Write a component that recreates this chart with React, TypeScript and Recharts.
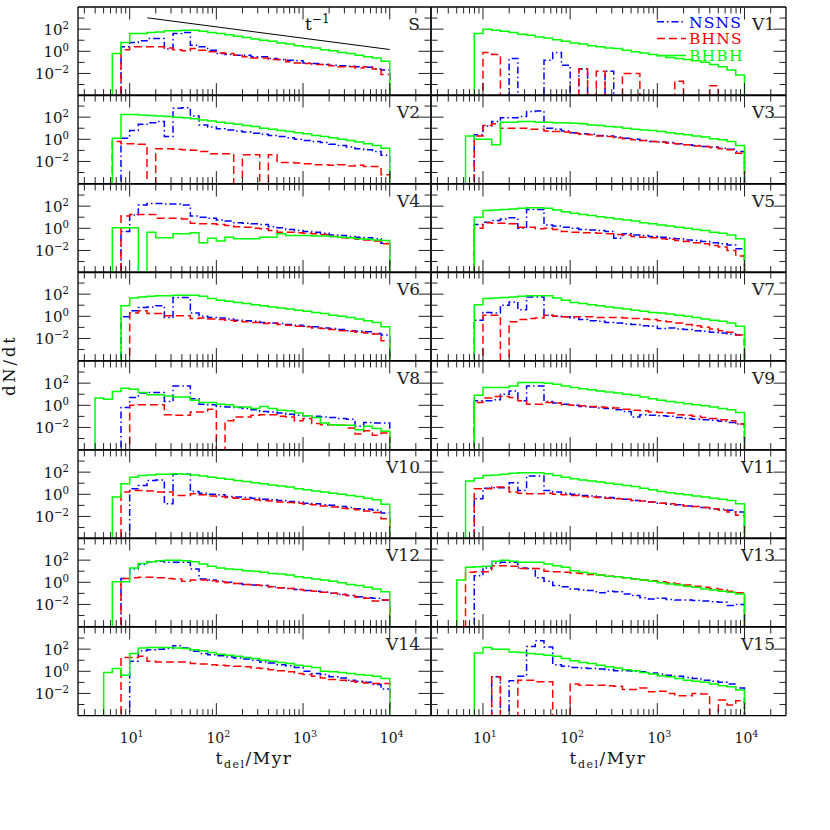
import { LineChart, Line, XAxis, YAxis } from "recharts";

const FONT = "'DejaVu Serif', 'Liberation Serif', serif";
const _ = null;

// log10 of the lower edge of each 0.1 dex delay-time bin (last entry closes the final bin)
const LOG_EDGES = [
  0.6, 0.7, 0.8, 0.9, 1.0, 1.1, 1.2, 1.3, 1.4, 1.5, 1.6, 1.7, 1.8, 1.9, 2.0, 2.1, 2.2, 2.3,
  2.4, 2.5, 2.6, 2.7, 2.8, 2.9, 3.0, 3.1, 3.2, 3.3, 3.4, 3.5, 3.6, 3.7, 3.8, 3.9, 4.0,
];
const X_TICKS = [
  3, 4, 5, 6, 7, 8, 9, 10, 20, 30, 40, 50, 60, 70, 80, 90, 100, 200, 300, 400, 500, 600, 700,
  800, 900, 1000, 2000, 3000, 4000, 5000, 6000, 7000, 8000, 9000, 10000, 20000,
];
const Y_TICKS = [1e-3, 1e-2, 1e-1, 1, 10, 100, 1000];
const X_DOMAIN = [2.535, 29920];
const Y_DOMAIN = [1e-4, 1e4];

// log10(dN/dt) per bin, null = empty bin
const S_NSNS = [_, _, _, 0.4, 0.8, 0.95, 1.15, 1.15, 0.2, 1.6, 1.7, 0.55, 0.4, 0.1, -0.2, -0.3, -0.35, -0.35, -0.5, -0.5, -0.65, -0.75, -0.8, -0.85, -1.05, -1.1, -1.2, -1.25, -1.3, -1.35, -1.4, -1.45, -1.6, -1.7];
const S_BHNS = [_, _, _, 0.15, 0.4, 0.4, 0.4, 0.4, 0.3, 0.15, 0.05, 0.25, 0.1, -0.05, -0.15, -0.2, -0.35, -0.5, -0.6, -0.6, -0.75, -0.75, -0.95, -1.05, -1.1, -1.2, -1.2, -1.3, -1.4, -1.4, -1.5, -1.4, -1.6, -2.1];
const S_BHBH = [_, _, -0.2, 0.8, 1.6, 1.6, 1.7, 1.75, 1.85, 1.85, 1.9, 1.9, 1.8, 1.7, 1.6, 1.5, 1.35, 1.25, 1.1, 1.0, 0.9, 0.75, 0.65, 0.5, 0.4, 0.3, 0.15, 0.05, -0.1, -0.2, -0.35, -0.5, -0.6, -0.9];

const V1_NSNS = [_, _, _, _, _, _, _, -0.65, _, _, _, -0.8, -0.1, -1.25, _, -1.6, _, _, -1.8, _, _, _, _, _, _, _, _, _, _, _, _, _, _, _];
const V1_BHNS = [_, _, _, _, -0.1, -0.3, _, _, _, _, _, _, _, _, _, -1.6, _, -1.8, _, _, -2.0, -2.0, _, _, _, _, -2.7, _, _, _, -3.1, _, _, _];
const V1_BHBH = [_, _, _, 1.6, 2.0, 1.9, 1.8, 1.7, 1.55, 1.45, 1.3, 1.2, 1.05, 0.9, 0.75, 0.65, 0.5, 0.4, 0.3, 0.25, 0.1, -0.05, -0.15, -0.3, -0.4, -0.55, -0.65, -0.75, -0.85, -1.0, -1.2, -1.4, -1.7, -2.15];

const V2_NSNS = [_, _, _, 0.1, 0.8, 1.35, 1.5, 1.6, 0.25, 2.8, 2.85, 2.1, 1.3, 1.1, 0.95, 0.85, 0.75, 0.65, 0.55, 0.45, 0.35, 0.25, 0.15, 0.0, -0.1, -0.2, -0.3, -0.45, -0.55, -0.7, -0.85, -0.95, -1.1, -1.45];
const V2_BHNS = [_, _, -0.2, -0.4, -0.4, -0.45, _, -0.85, -0.85, -0.9, -0.95, -1.0, -1.1, -1.3, -1.3, -1.3, _, -1.4, -1.4, _, -1.4, -2.1, -2.1, -2.15, -2.2, -2.3, -2.3, -2.35, -2.3, -2.4, -2.35, -2.45, -2.45, -3.2];
const V2_BHBH = [_, _, 0.1, 2.25, 2.25, 2.2, 2.15, 2.1, 2.05, 2.0, 1.95, 1.85, 1.75, 1.65, 1.55, 1.45, 1.35, 1.25, 1.15, 1.0, 0.9, 0.8, 0.7, 0.6, 0.5, 0.35, 0.25, 0.15, 0.0, -0.1, -0.25, -0.4, -0.55, -0.8];

const V3_NSNS = [_, _, _, 0.4, 1.2, 1.6, 1.95, 1.95, 2.05, 2.5, 2.55, 1.0, 0.9, 0.75, 0.6, 0.5, 0.45, 0.35, 0.3, 0.2, 0.1, 0.0, -0.1, -0.2, -0.25, -0.3, -0.4, -0.5, -0.55, -0.65, -0.7, -0.8, -0.9, -1.1];
const V3_BHNS = [_, _, _, 0.3, 1.25, 1.4, 1.0, 1.0, 1.0, 0.9, 0.9, 0.75, 0.7, 0.65, 0.55, 0.45, 0.4, 0.3, 0.25, 0.15, 0.05, -0.05, -0.1, -0.2, -0.25, -0.35, -0.4, -0.5, -0.6, -0.65, -0.75, -0.85, -0.95, -1.25];
const V3_BHBH = [_, _, 0.3, 0.0, 0.0, -0.5, 1.55, 1.55, 1.6, 1.6, 1.55, 1.55, 1.5, 1.5, 1.45, 1.4, 1.3, 1.25, 1.15, 1.1, 1.0, 0.9, 0.85, 0.8, 0.7, 0.6, 0.5, 0.4, 0.3, 0.2, 0.05, -0.05, -0.2, -0.55];

const V4_NSNS = [_, _, _, -0.3, 1.2, 2.1, 2.25, 2.25, 2.2, 2.2, 2.1, 1.1, 1.0, 0.9, 0.75, 0.65, 0.5, 0.45, 0.4, 0.35, 0.15, 0.05, -0.1, -0.2, -0.3, -0.35, -0.45, -0.6, -0.65, -0.75, -0.8, -0.85, -0.95, -1.35];
const V4_BHNS = [_, _, _, 1.1, 1.25, 1.25, 1.25, 0.9, 0.9, 0.9, 0.85, 0.45, 0.4, 0.4, 0.35, 0.25, 0.15, 0.1, 0.0, -0.05, -0.2, -0.35, -0.35, -0.4, -0.45, -0.5, -0.55, -0.75, -0.85, -0.9, -1.0, -1.05, -1.15, -1.4];
const V4_BHBH = [_, _, 0.05, 0.05, 0.05, _, -0.35, -0.85, -0.85, -0.5, -0.5, -0.4, -1.3, -0.9, -1.15, -0.8, -0.95, -0.95, -0.95, -0.8, -0.8, -0.5, -0.65, -0.65, -0.65, -0.7, -0.7, -0.75, -0.8, -0.85, -0.95, -1.0, -1.05, -1.1];

const V5_NSNS = [_, _, _, 0.35, 0.55, 0.7, 0.85, 0.95, 0.0, 1.7, 1.7, 0.3, 0.2, 0.1, 0.0, -0.1, -0.15, -0.2, -0.3, -0.9, -0.5, -0.6, -0.65, -0.75, -0.8, -0.9, -0.95, -1.05, -1.1, -1.2, -1.3, -1.4, -1.5, -1.85];
const V5_BHNS = [_, _, _, 0.0, 0.5, 0.45, 0.45, 0.4, 0.1, 0.1, -0.05, 0.0, -0.1, -0.3, -0.35, -0.4, -0.4, -0.45, -0.5, -0.55, -0.6, -0.75, -0.8, -0.85, -0.95, -1.0, -1.1, -1.2, -1.3, -1.4, -1.55, -1.7, -2.0, -2.5];
const V5_BHBH = [_, _, _, 1.0, 1.6, 1.65, 1.7, 1.75, 1.8, 1.85, 1.85, 1.8, 1.65, 1.5, 1.35, 1.25, 1.15, 1.05, 0.95, 0.85, 0.75, 0.65, 0.5, 0.4, 0.3, 0.2, 0.1, 0.0, -0.1, -0.2, -0.35, -0.45, -0.6, -0.95];

const V6_NSNS = [_, _, _, -0.05, 0.5, 0.8, 0.85, 0.95, -0.1, 1.7, 1.7, 0.3, 0.0, -0.1, -0.15, -0.25, -0.35, -0.4, -0.45, -0.55, -0.6, -0.65, -0.75, -0.8, -0.9, -0.95, -1.05, -1.1, -1.2, -1.3, -1.35, -1.4, -1.55, -1.7];
const V6_BHNS = [_, _, _, _, 0.3, 0.5, 0.25, 0.25, 0.05, 0.05, 0.05, -0.2, -0.15, -0.25, -0.3, -0.35, -0.45, -0.5, -0.55, -0.65, -0.6, -0.75, -0.8, -0.9, -0.95, -1.05, -1.1, -1.2, -1.3, -1.35, -1.45, -1.5, -1.6, -2.2];
const V6_BHBH = [_, _, _, 0.95, 1.65, 1.75, 1.8, 1.85, 1.85, 1.9, 1.9, 1.9, 1.8, 1.6, 1.45, 1.35, 1.25, 1.15, 1.05, 0.95, 0.85, 0.75, 0.65, 0.55, 0.45, 0.35, 0.25, 0.1, 0.0, -0.1, -0.25, -0.4, -0.55, -0.95];

const V7_NSNS = [_, _, _, -0.35, 0.35, 0.3, 1.0, 1.3, 0.6, 1.75, 1.75, 0.1, 0.0, -0.05, -0.15, -0.3, -0.4, -0.45, -0.55, -0.6, -0.7, -0.75, -0.85, -0.9, -1.1, -1.05, -1.15, -1.2, -1.3, -1.35, -1.45, -1.5, -1.6, -1.7];
const V7_BHNS = [_, _, _, _, 0.1, 0.1, _, -0.5, -0.3, -0.2, -0.15, 0.1, 0.0, -0.05, -0.05, -0.05, -0.05, -0.1, -0.1, -0.1, -0.15, -0.2, -0.25, -0.3, -0.4, -0.5, -0.6, -0.75, -0.85, -1.0, -1.15, -1.3, -1.45, -1.7];
const V7_BHBH = [_, _, _, 1.05, 1.6, 1.65, 1.7, 1.75, 1.8, 1.85, 1.85, 1.85, 1.65, 1.45, 1.25, 1.15, 1.05, 0.95, 0.85, 0.75, 0.65, 0.55, 0.45, 0.35, 0.3, 0.2, 0.1, 0.0, -0.1, -0.25, -0.35, -0.45, -0.6, -0.9];

const V8_NSNS = [_, _, _, -0.2, 0.7, 1.1, 1.15, 1.15, 0.35, 1.75, 1.75, 0.6, 0.1, 0.05, -0.1, -0.15, -0.2, -0.3, -0.4, -0.55, -0.6, -0.7, -0.8, -0.9, -0.95, -1.0, -1.05, -1.1, -1.2, -1.25, -1.9, -1.55, -1.6, -1.6];
const V8_BHNS = [_, _, _, _, 0.0, 0.05, 0.05, 0.05, -0.85, -0.9, -0.9, -0.6, -0.6, -0.35, _, -1.4, -1.05, -1.05, -0.9, -0.85, -0.85, -1.0, -1.05, -1.4, -1.2, -1.65, -1.75, -1.75, -1.8, -2.05, -2.6, -2.3, -2.7, -2.5];
const V8_BHBH = [0.65, 0.55, 1.25, 1.55, 1.45, 1.15, 0.95, 0.95, 0.85, 0.75, 0.75, 0.45, 0.25, 0.25, 0.1, 0.05, -0.15, -0.15, -0.3, -0.1, -0.3, -0.45, -0.5, -0.7, -0.95, -1.1, -1.6, -1.75, -1.8, -1.8, -2.2, -1.9, -2.1, -2.35];

const V9_NSNS = [_, _, _, 0.4, 0.4, 0.5, 1.0, 1.3, 0.4, 1.75, 1.75, 0.35, 0.2, 0.1, 0.0, -0.1, -0.15, -0.25, -0.3, -0.4, -0.55, -1.05, -0.85, -0.9, -0.95, -1.0, -1.1, -1.2, -1.25, -1.3, -1.35, -1.45, -1.55, -1.7];
const V9_BHNS = [_, _, _, 0.25, 0.65, 0.8, 0.8, 0.7, 0.4, 0.1, 0.1, 0.25, 0.2, 0.05, 0.0, -0.05, -0.1, -0.15, -0.2, -0.25, -0.35, -0.45, -0.5, -0.6, -0.65, -0.7, -0.85, -0.9, -1.0, -1.1, -1.2, -1.3, -1.4, -1.7];
const V9_BHBH = [_, _, _, 0.9, 1.6, 1.6, 1.6, 1.75, 2.05, 2.05, 2.05, 2.0, 1.9, 1.75, 1.6, 1.5, 1.4, 1.3, 1.2, 1.1, 1.0, 0.9, 0.75, 0.6, 0.45, 0.35, 0.25, 0.15, 0.05, -0.05, -0.15, -0.3, -0.4, -0.65];

const V10_NSNS = [_, _, _, _, 0.5, 0.8, 1.25, 1.3, -0.85, 1.8, 1.8, 0.25, 0.1, 0.0, -0.05, -0.2, -0.25, -0.3, -0.35, -0.45, -0.5, -0.55, -0.65, -0.7, -0.8, -0.85, -0.95, -1.0, -1.1, -1.2, -1.3, -1.35, -1.45, -1.7];
const V10_BHNS = [_, _, _, 0.2, 0.35, 0.35, 0.3, 0.2, 0.2, -0.1, -0.1, 0.05, -0.05, -0.15, -0.2, -0.3, -0.35, -0.45, -0.5, -0.55, -0.6, -0.7, -0.75, -0.8, -0.9, -0.95, -1.05, -1.15, -1.25, -1.3, -1.4, -1.5, -1.65, -2.2];
const V10_BHBH = [_, _, -0.25, 0.95, 1.55, 1.7, 1.75, 1.8, 1.8, 1.85, 1.8, 1.75, 1.65, 1.55, 1.45, 1.35, 1.25, 1.15, 1.05, 0.95, 0.85, 0.75, 0.65, 0.5, 0.4, 0.3, 0.2, 0.1, 0.0, -0.1, -0.2, -0.35, -0.5, -0.9];

const V11_NSNS = [_, _, _, -0.4, 0.55, 0.6, 0.6, 1.05, 0.35, 1.65, 1.65, 0.35, 0.2, 0.1, 0.0, -0.1, -0.15, -0.25, -0.3, -0.35, -0.45, -0.55, -0.6, -0.7, -0.8, -0.9, -0.95, -1.05, -1.1, -1.2, -1.3, -1.35, -1.45, -1.6];
const V11_BHNS = [_, _, _, 0.5, 0.5, 0.65, 0.65, 0.2, 0.1, 0.05, 0.05, 0.1, 0.0, -0.05, -0.1, -0.2, -0.25, -0.3, -0.35, -0.4, -0.45, -0.55, -0.6, -0.7, -0.8, -0.85, -0.95, -1.05, -1.1, -1.2, -1.3, -1.45, -1.6, -1.9];
const V11_BHBH = [_, _, 1.2, 1.45, 1.7, 1.75, 1.8, 1.9, 1.95, 1.95, 1.95, 1.85, 1.7, 1.55, 1.4, 1.3, 1.2, 1.1, 1.0, 0.9, 0.8, 0.7, 0.55, 0.4, 0.25, 0.15, 0.05, -0.05, -0.15, -0.25, -0.35, -0.45, -0.55, -0.85];

const V12_NSNS = [_, _, _, 0.35, 1.2, 1.6, 1.85, 1.9, 1.8, 1.8, 1.8, 1.2, 0.3, 0.2, 0.1, 0.0, -0.1, -0.2, -0.25, -0.3, -0.4, -0.5, -0.55, -0.65, -0.75, -0.8, -0.9, -1.0, -1.1, -1.2, -1.3, -1.4, -1.45, -1.6];
const V12_BHNS = [_, _, _, 0.35, 0.4, 0.45, 0.45, 0.4, 0.35, 0.3, 0.1, 0.2, 0.2, 0.15, 0.05, -0.05, -0.1, -0.2, -0.25, -0.3, -0.4, -0.5, -0.55, -0.65, -0.75, -0.8, -0.9, -1.0, -1.1, -1.2, -1.35, -1.45, -1.7, -1.6];
const V12_BHBH = [_, _, 0.05, 0.05, 1.3, 1.7, 1.85, 1.95, 2.0, 2.0, 1.95, 1.85, 1.65, 1.45, 1.3, 1.2, 1.15, 1.05, 1.0, 0.9, 0.8, 0.75, 0.65, 0.5, 0.4, 0.3, 0.2, 0.1, -0.05, -0.2, -0.3, -0.45, -0.6, -0.85];

const V13_NSNS = [_, _, _, 0.6, 1.3, 1.75, 1.8, 1.8, 1.3, 1.25, 0.4, 0.1, -0.3, -0.4, -0.6, -0.7, -0.75, -0.95, -0.8, -0.85, -1.05, -1.2, -1.4, -1.5, -1.45, -1.55, -1.6, -1.6, -1.65, -1.7, -1.75, -1.8, -2.1, -2.0];
const V13_BHNS = [_, _, 0.9, 0.95, 0.95, 1.5, 1.5, 1.45, 1.25, 1.25, 1.25, 1.0, 0.95, 0.9, 0.85, 0.8, 0.7, 0.65, 0.55, 0.5, 0.4, 0.3, 0.2, 0.15, 0.05, -0.05, -0.15, -0.25, -0.35, -0.45, -0.55, -0.65, -0.8, -0.95];
const V13_BHBH = [_, 0.2, 1.35, 1.4, 1.45, 1.9, 2.0, 1.9, 1.8, 1.8, 1.8, 1.65, 1.5, 1.35, 1.05, 0.9, 0.8, 0.65, 0.55, 0.5, 0.4, 0.3, 0.2, 0.1, -0.05, -0.15, -0.25, -0.35, -0.45, -0.6, -0.7, -0.8, -0.9, -1.05];

const V14_NSNS = [_, _, _, _, 0.9, 1.85, 1.95, 2.0, 2.05, 2.3, 2.1, 1.8, 1.6, 1.5, 1.4, 1.3, 1.2, 1.1, 1.0, 0.85, 0.75, 0.6, 0.5, 0.35, 0.0, -0.2, -0.3, -0.5, -0.6, -0.8, -0.9, -1.0, -1.2, -1.6];
const V14_BHNS = [_, _, _, 1.25, 1.25, 1.35, 0.9, 0.85, 0.85, 0.85, 0.85, 0.7, 0.65, 0.6, 0.55, 0.5, 0.45, 0.4, 0.3, 0.25, 0.15, 0.05, -0.05, -0.2, -0.3, -0.45, -0.6, -0.75, -0.8, -0.9, -1.0, -1.05, -1.1, -1.1];
const V14_BHBH = [_, -0.1, 0.25, -0.35, 1.6, 2.1, 2.15, 2.15, 2.15, 2.1, 2.05, 1.95, 1.85, 1.7, 1.55, 1.45, 1.35, 1.25, 1.15, 1.0, 0.9, 0.8, 0.7, 0.55, 0.45, 0.35, 0.0, -0.05, -0.1, -0.2, -0.3, -0.35, -0.45, -0.65];

const V15_NSNS = [_, _, _, _, _, -0.5, _, -0.85, -0.45, 2.25, 2.75, 2.2, 0.6, 0.45, 0.35, 0.3, 0.25, 0.2, 0.15, 0.05, 0.05, 0.0, -0.05, -0.15, -0.25, -0.35, -0.45, -0.55, -0.65, -0.8, -0.9, -1.0, -1.15, -1.5];
const V15_BHNS = [_, _, _, _, _, -0.5, _, _, -0.8, -0.8, -0.95, -0.95, _, _, -1.15, -1.25, -1.25, -1.25, -1.3, -1.35, -1.65, -1.65, -1.5, -1.85, -1.8, -2.0, -2.2, -2.2, -2.0, -2.05, _, -2.6, -3.05, -2.65];
const V15_BHBH = [_, _, _, 1.65, 2.15, 2.0, 2.0, 1.75, 1.7, 1.6, 1.55, 1.45, 1.35, 1.15, 0.95, 0.8, 0.7, 0.55, 0.4, 0.3, 0.15, 0.05, -0.1, -0.25, -0.4, -0.5, -0.65, -0.8, -0.9, -1.0, -1.15, -1.3, -1.4, -1.7];

// reference t^-1 slope line drawn in panel S
const T_LINE = [
  { t: 16, v: 1050 },
  { t: 10000, v: 1.45 },
];

const PANELS = [
  { label: "S", nsns: S_NSNS, bhns: S_BHNS, bhbh: S_BHBH },
  { label: "V1", nsns: V1_NSNS, bhns: V1_BHNS, bhbh: V1_BHBH },
  { label: "V2", nsns: V2_NSNS, bhns: V2_BHNS, bhbh: V2_BHBH },
  { label: "V3", nsns: V3_NSNS, bhns: V3_BHNS, bhbh: V3_BHBH },
  { label: "V4", nsns: V4_NSNS, bhns: V4_BHNS, bhbh: V4_BHBH },
  { label: "V5", nsns: V5_NSNS, bhns: V5_BHNS, bhbh: V5_BHBH },
  { label: "V6", nsns: V6_NSNS, bhns: V6_BHNS, bhbh: V6_BHBH },
  { label: "V7", nsns: V7_NSNS, bhns: V7_BHNS, bhbh: V7_BHBH },
  { label: "V8", nsns: V8_NSNS, bhns: V8_BHNS, bhbh: V8_BHBH },
  { label: "V9", nsns: V9_NSNS, bhns: V9_BHNS, bhbh: V9_BHBH },
  { label: "V10", nsns: V10_NSNS, bhns: V10_BHNS, bhbh: V10_BHBH },
  { label: "V11", nsns: V11_NSNS, bhns: V11_BHNS, bhbh: V11_BHBH },
  { label: "V12", nsns: V12_NSNS, bhns: V12_BHNS, bhbh: V12_BHBH },
  { label: "V13", nsns: V13_NSNS, bhns: V13_BHNS, bhbh: V13_BHBH },
  { label: "V14", nsns: V14_NSNS, bhns: V14_BHNS, bhbh: V14_BHBH },
  { label: "V15", nsns: V15_NSNS, bhns: V15_BHNS, bhbh: V15_BHBH },
];

const SERIES = [
  { key: "nsns", name: "NSNS", color: "#0000ff", dash: "7 3 1.5 3" },
  { key: "bhns", name: "BHNS", color: "#ff0000", dash: "8 4" },
  { key: "bhbh", name: "BHBH", color: "#00ff00", dash: undefined },
];

// layout (plot-area boxes in page pixels)
const COL_X = [77.5, 430.5];
const COL_W = [353, 355];
const TOP = 6.5;
const ROW_H = 88.6;
const ROWS = 8;
const AXIS = { stroke: "#000", strokeWidth: 1.3 };
const FLOOR = 1e-8;

const EDGES = LOG_EDGES.map((e) => 10 ** e);

function toSteps(vals: (number | null)[]) {
  const n = Math.min(vals.length, EDGES.length - 1);
  const pts = [{ t: EDGES[0], v: FLOOR }];
  for (let i = 0; i < n; i++) {
    const v = vals[i];
    pts.push({ t: EDGES[i], v: v === null ? FLOOR : 10 ** v });
  }
  pts.push({ t: EDGES[n], v: pts[pts.length - 1].v });
  pts.push({ t: EDGES[n], v: FLOOR });
  return pts;
}

const expOf = (v: number) => Math.round(Math.log10(v));
const isPow10 = (v: number) => Math.abs(Math.log10(v) - expOf(v)) < 1e-6;
const expText = (e: number) => (e < 0 ? `\u2212${-e}` : `${e}`);

function Pow10({ x, y, exp, anchor, size }: any) {
  return (
    <text x={x} y={y} textAnchor={anchor} fontFamily={FONT} fontSize={size} fill="#111">
      10
      <tspan dy={-size * 0.4} fontSize={size * 0.68}>
        {expText(exp)}
      </tspan>
    </text>
  );
}

const xTick = (dir: number, labels: boolean) => (p: any) => {
  const v = p.payload.value;
  const major = isPow10(v);
  const len = major ? 12.5 : 6.5;
  return (
    <g>
      <line x1={p.x} x2={p.x} y1={p.y} y2={p.y + dir * len} stroke="#222" strokeWidth={1} />
      {labels && major ? <Pow10 x={p.x + 2} y={p.y + 27} exp={expOf(v)} anchor="middle" size={14} /> : null}
    </g>
  );
};

const yTick = (dir: number, labels: boolean) => (p: any) => {
  const v = p.payload.value;
  const e = expOf(v);
  const major = e % 2 === 0;
  const len = major ? 12.5 : 6.5;
  return (
    <g>
      <line x1={p.x} x2={p.x + dir * len} y1={p.y} y2={p.y} stroke="#222" strokeWidth={1} />
      {labels && major ? <Pow10 x={p.x - 9} y={p.y + 6} exp={e} anchor="end" size={15} /> : null}
    </g>
  );
};

function Panel({ panel, idx }: any) {
  const col = idx % 2;
  const row = Math.floor(idx / 2);
  const left = col === 0;
  const bottom = row === ROWS - 1;
  // space kept around the plot box; each axis itself takes 1px of it
  const ml = left ? 80 : 4;
  const mr = 4;
  const mt = 4;
  const mb = bottom ? 40 : 4;
  const w = COL_W[col];
  const h = ROW_H;
  const x0 = COL_X[col];
  const y0 = TOP + row * ROW_H;

  return (
    <div style={{ position: "absolute", left: x0 - ml, top: y0 - mt }}>
      <LineChart
        width={w + ml + mr}
        height={h + mt + mb}
        margin={{ top: mt - 1, right: mr - 1, bottom: mb - 1, left: ml - 1 }}
      >
        <XAxis
          xAxisId="b"
          orientation="bottom"
          dataKey="t"
          type="number"
          scale="log"
          domain={X_DOMAIN}
          allowDataOverflow
          ticks={X_TICKS}
          interval={0}
          height={1}
          tickSize={0}
          tickMargin={0}
          tickLine={false}
          axisLine={AXIS}
          tick={xTick(-1, bottom)}
        />
        <XAxis
          xAxisId="t"
          orientation="top"
          dataKey="t"
          type="number"
          scale="log"
          domain={X_DOMAIN}
          allowDataOverflow
          ticks={X_TICKS}
          interval={0}
          height={1}
          tickSize={0}
          tickMargin={0}
          tickLine={false}
          axisLine={AXIS}
          tick={xTick(1, false)}
        />
        <YAxis
          yAxisId="l"
          orientation="left"
          type="number"
          scale="log"
          domain={Y_DOMAIN}
          allowDataOverflow
          ticks={Y_TICKS}
          interval={0}
          width={1}
          tickSize={0}
          tickMargin={0}
          tickLine={false}
          axisLine={AXIS}
          tick={yTick(1, left)}
        />
        <YAxis
          yAxisId="r"
          orientation="right"
          type="number"
          scale="log"
          domain={Y_DOMAIN}
          allowDataOverflow
          ticks={Y_TICKS}
          interval={0}
          width={1}
          tickSize={0}
          tickMargin={0}
          tickLine={false}
          axisLine={AXIS}
          tick={yTick(-1, false)}
        />
        {SERIES.map((s) => (
          <Line
            key={s.key}
            xAxisId="b"
            yAxisId="l"
            data={toSteps(panel[s.key])}
            dataKey="v"
            type="stepAfter"
            stroke={s.color}
            strokeWidth={1.5}
            strokeDasharray={s.dash}
            dot={false}
            activeDot={false}
            isAnimationActive={false}
          />
        ))}
        {idx === 0 ? (
          <Line
            xAxisId="b"
            yAxisId="l"
            data={T_LINE}
            dataKey="v"
            type="linear"
            stroke="#000"
            strokeWidth={1}
            dot={false}
            activeDot={false}
            isAnimationActive={false}
          />
        ) : null}
      </LineChart>
    </div>
  );
}

function Overlay() {
  const legendY = [21.7, 38.5, 55.5];
  return (
    <svg
      width={830}
      height={830}
      style={{ position: "absolute", left: 0, top: 0, pointerEvents: "none" }}
    >
      {PANELS.map((p, i) => {
        const col = i % 2;
        const row = Math.floor(i / 2);
        return (
          <text
            key={p.label}
            x={COL_X[col] + COL_W[col] - 10.5}
            y={TOP + row * ROW_H + 23}
            textAnchor="end"
            fontFamily={FONT}
            fontSize={17}
            fill="#222"
          >
            {p.label}
          </text>
        );
      })}
      <text x={305} y={29.5} fontFamily={FONT} fontSize={17} fill="#111">
        t
        <tspan dy={-7} fontSize={12}>
          {"\u22121"}
        </tspan>
      </text>
      {SERIES.map((s, i) => (
        <g key={s.key}>
          <line x1={657} x2={686} y1={legendY[i]} y2={legendY[i]} stroke={s.color} strokeWidth={1.5} strokeDasharray={s.dash} />
          <text x={689} y={legendY[i] + 5.8} fontFamily={FONT} fontSize={15.5} letterSpacing={1.2} fill={s.color}>
            {s.name}
          </text>
        </g>
      ))}
      <text
        transform="translate(15,365) rotate(-90)"
        textAnchor="middle"
        fontFamily={FONT}
        fontSize={16}
        letterSpacing={3}
        fill="#111"
      >
        dN/dt
      </text>
      {[0, 1].map((c) => (
        <text
          key={c}
          x={COL_X[c] + COL_W[c] / 2}
          y={764}
          textAnchor="middle"
          fontFamily={FONT}
          fontSize={17}
          letterSpacing={1.5}
          fill="#111"
        >
          t
          <tspan dy={4} fontSize={11}>
            del
          </tspan>
          <tspan dy={-4}>/Myr</tspan>
        </text>
      ))}
    </svg>
  );
}

export default function App() {
  return (
    <div style={{ position: "absolute", left: 0, top: 0, width: 830, height: 830, background: "#fff" }}>
      {PANELS.map((p, i) => (
        <Panel key={p.label} panel={p} idx={i} />
      ))}
      <Overlay />
    </div>
  );
}
